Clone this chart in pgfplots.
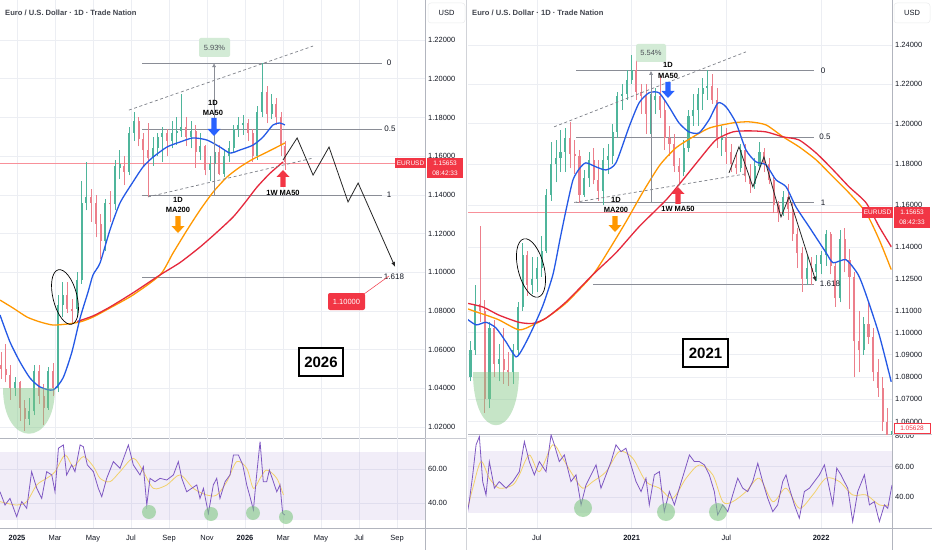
\documentclass[border=0pt]{standalone}
\usepackage{pgfplots}
\pgfplotsset{compat=1.18}
\usepackage{pgfplotstable}
\usepackage{fontspec}
\setmainfont{Liberation Sans}
\usetikzlibrary{arrows.meta}

\definecolor{cgreen}{HTML}{4FB59B}
\definecolor{cred}{HTML}{EC7F8B}
\definecolor{mablue}{HTML}{2459E6}
\definecolor{maorange}{HTML}{FF9800}
\definecolor{mared}{HTML}{E5283C}
\definecolor{tvred}{HTML}{F23645}
\definecolor{rsipurple}{HTML}{7E57C2}
\definecolor{rsiyellow}{HTML}{F2D16B}
\definecolor{gridc}{HTML}{ECEEF3}
\definecolor{axisc}{HTML}{B2B5BE}
\definecolor{txt}{HTML}{131722}
\definecolor{fibc}{HTML}{8A8D96}
\definecolor{pctbox}{HTML}{D3EBD6}
\definecolor{blob}{HTML}{81C784}
\definecolor{arrblue}{HTML}{2962FF}

\newcommand{\fs}[1]{\fontsize{#1}{#1}\selectfont}

\pgfplotstableread{
x o c h l
-0.85 1.052 1.050 1.059 1.045
-0.60 1.050 1.047 1.063 1.043
-0.35 1.047 1.040 1.052 1.034
-0.10 1.040 1.043 1.046 1.036
0.15 1.043 1.030 1.044 1.023
0.40 1.030 1.024 1.034 1.018
0.65 1.024 1.028 1.035 1.021
0.90 1.028 1.049 1.052 1.026
1.15 1.049 1.036 1.052 1.032
1.40 1.036 1.030 1.042 1.021
1.65 1.030 1.049 1.051 1.029
1.90 1.049 1.040 1.053 1.036
2.15 1.040 1.083 1.088 1.038
2.40 1.083 1.088 1.095 1.077
2.65 1.088 1.081 1.095 1.079
2.90 1.081 1.080 1.086 1.073
3.15 1.081 1.096 1.100 1.077
3.40 1.096 1.136 1.147 1.094
3.65 1.136 1.139 1.157 1.132
3.90 1.139 1.136 1.143 1.126
4.15 1.136 1.125 1.140 1.118
4.40 1.125 1.116 1.130 1.107
4.65 1.116 1.136 1.138 1.111
4.90 1.136 1.135 1.142 1.126
5.15 1.135 1.155 1.158 1.132
5.40 1.154 1.156 1.163 1.148
5.65 1.155 1.152 1.160 1.145
5.90 1.152 1.172 1.175 1.150
6.15 1.172 1.178 1.183 1.168
6.40 1.178 1.169 1.180 1.165
6.65 1.169 1.163 1.172 1.155
6.90 1.163 1.159 1.177 1.139
7.15 1.159 1.164 1.170 1.155
7.40 1.164 1.170 1.172 1.160
7.65 1.170 1.172 1.175 1.157
7.90 1.172 1.168 1.174 1.160
8.15 1.168 1.172 1.178 1.164
8.40 1.172 1.173 1.180 1.166
8.65 1.173 1.175 1.192 1.170
8.90 1.175 1.170 1.180 1.165
9.15 1.170 1.173 1.178 1.164
9.40 1.173 1.162 1.176 1.154
9.65 1.162 1.165 1.172 1.158
9.90 1.165 1.153 1.166 1.150
10.15 1.153 1.156 1.160 1.147
10.40 1.156 1.162 1.165 1.150
10.65 1.162 1.151 1.166 1.150
10.90 1.151 1.160 1.163 1.149
11.15 1.160 1.164 1.168 1.157
11.40 1.164 1.174 1.176 1.162
11.65 1.174 1.176 1.180 1.170
11.90 1.176 1.177 1.181 1.171
12.15 1.177 1.172 1.179 1.168
12.40 1.172 1.160 1.174 1.157
12.65 1.160 1.183 1.186 1.158
12.90 1.183 1.193 1.208 1.180
13.15 1.193 1.182 1.196 1.177
13.40 1.182 1.187 1.192 1.179
13.65 1.187 1.180 1.190 1.176
13.90 1.180 1.165 1.183 1.160
14.10 1.165 1.157 1.168 1.153
}\leftc

\pgfplotstableread{
x o c h l
1.8 1.080 1.092 1.096 1.078
2.1 1.092 1.113 1.122 1.090
2.4 1.113 1.110 1.150 1.105
2.7 1.110 1.070 1.115 1.064
3.0 1.070 1.102 1.105 1.066
3.3 1.102 1.086 1.106 1.080
3.6 1.086 1.088 1.095 1.078
3.9 1.088 1.083 1.102 1.077
4.2 1.083 1.082 1.091 1.076
4.5 1.082 1.092 1.095 1.077
4.8 1.092 1.112 1.114 1.090
5.1 1.112 1.136 1.142 1.110
5.4 1.136 1.122 1.138 1.117
5.7 1.122 1.125 1.135 1.118
6.0 1.125 1.130 1.135 1.119
6.3 1.130 1.138 1.145 1.126
6.6 1.138 1.165 1.168 1.137
6.9 1.165 1.180 1.191 1.162
7.2 1.180 1.183 1.192 1.171
7.5 1.183 1.186 1.197 1.176
7.8 1.186 1.193 1.198 1.176
8.1 1.193 1.185 1.201 1.178
8.4 1.185 1.184 1.192 1.175
8.7 1.184 1.165 1.187 1.161
9.0 1.165 1.173 1.177 1.164
9.3 1.173 1.182 1.186 1.169
9.6 1.182 1.172 1.188 1.170
9.9 1.172 1.167 1.182 1.162
10.2 1.167 1.182 1.188 1.160
10.5 1.182 1.184 1.190 1.175
10.8 1.184 1.196 1.200 1.180
11.1 1.196 1.214 1.216 1.193
11.4 1.214 1.215 1.220 1.207
11.7 1.215 1.222 1.227 1.212
12.0 1.222 1.227 1.235 1.220
12.3 1.227 1.216 1.233 1.212
12.6 1.216 1.214 1.220 1.205
12.9 1.214 1.205 1.220 1.195
13.2 1.205 1.212 1.215 1.195
13.5 1.212 1.214 1.218 1.205
13.8 1.214 1.207 1.224 1.203
14.1 1.207 1.193 1.212 1.187
14.4 1.193 1.190 1.199 1.184
14.7 1.190 1.179 1.195 1.176
15.0 1.179 1.176 1.183 1.170
15.3 1.176 1.188 1.192 1.174
15.6 1.188 1.204 1.207 1.186
15.9 1.204 1.207 1.215 1.199
16.2 1.207 1.215 1.218 1.199
16.5 1.215 1.218 1.223 1.207
16.8 1.218 1.219 1.227 1.212
17.1 1.219 1.212 1.225 1.210
17.4 1.212 1.192 1.218 1.188
17.7 1.192 1.193 1.199 1.184
18.0 1.193 1.186 1.198 1.180
18.3 1.186 1.180 1.190 1.176
18.6 1.180 1.178 1.185 1.175
18.9 1.178 1.187 1.190 1.176
19.2 1.187 1.174 1.190 1.171
19.5 1.174 1.170 1.180 1.166
19.8 1.170 1.179 1.183 1.168
20.1 1.179 1.186 1.191 1.177
20.4 1.186 1.180 1.188 1.176
20.7 1.180 1.172 1.183 1.170
21.0 1.172 1.160 1.174 1.156
21.3 1.160 1.156 1.162 1.152
21.6 1.156 1.164 1.167 1.155
21.9 1.164 1.158 1.170 1.153
22.2 1.158 1.146 1.161 1.143
22.5 1.146 1.137 1.149 1.130
22.8 1.137 1.125 1.140 1.119
23.1 1.125 1.130 1.136 1.122
23.4 1.130 1.128 1.135 1.122
23.7 1.128 1.132 1.136 1.124
24.0 1.132 1.136 1.138 1.127
24.3 1.136 1.146 1.148 1.131
24.6 1.146 1.131 1.147 1.127
24.9 1.131 1.116 1.133 1.112
25.2 1.116 1.144 1.148 1.114
25.5 1.144 1.134 1.149 1.128
25.8 1.134 1.126 1.139 1.111
26.1 1.126 1.096 1.128 1.080
26.4 1.096 1.092 1.110 1.082
26.7 1.092 1.104 1.107 1.090
27.0 1.104 1.098 1.114 1.095
27.3 1.098 1.082 1.102 1.078
27.6 1.082 1.075 1.088 1.071
27.9 1.075 1.060 1.080 1.056
28.2 1.060 1.054 1.066 1.045
28.5 1.054 1.056 1.065 1.035
}\rightc

\pgfplotsset{
  tvbase/.style={
    scale only axis, anchor=south west,
    axis x line*=bottom, axis y line*=right,
    axis line style={-, draw=axisc, line width=0.6pt},
    major tick length=0pt,
    xmajorgrids, ymajorgrids,
    major grid style={draw=gridc, line width=0.5pt},
    tick label style={font=\fs{7.5}, text=txt},
    yticklabel style={anchor=west, inner sep=0pt, xshift=3pt},
    xticklabel style={anchor=north, inner sep=0pt, yshift=-7pt},
  },
  ma/.style={line width=1.3pt, mark=none, smooth, tension=0.4},
  fib/.style={draw=fibc, line width=0.7pt, mark=none},
  chan/.style={draw=fibc!90!black, dashed, dash pattern=on 3pt off 2.5pt, line width=0.7pt, mark=none},
  zig/.style={draw=black!85, line width=0.8pt, mark=none},
}

\newcommand{\candles}[1]{%
 \addplot[draw=none, mark=none, forget plot,
   restrict expr to domain={\thisrow{c}-\thisrow{o}}{0:1},
   error bars/.cd, y dir=plus, y explicit, error mark=none,
   error bar style={draw=cgreen, line width=0.6pt}]
   table[x=x, y=l, y error expr=\thisrow{h}-\thisrow{l}] {#1};
 \addplot[draw=none, mark=none, forget plot,
   restrict expr to domain={\thisrow{c}-\thisrow{o}}{0:1},
   error bars/.cd, y dir=plus, y explicit, error mark=none,
   error bar style={draw=cgreen, line width=2.1pt}]
   table[x=x, y=o, y error expr=\thisrow{c}-\thisrow{o}] {#1};
 \addplot[draw=none, mark=none, forget plot,
   restrict expr to domain={\thisrow{o}-\thisrow{c}}{0.00001:1},
   error bars/.cd, y dir=plus, y explicit, error mark=none,
   error bar style={draw=cred, line width=0.6pt}]
   table[x=x, y=l, y error expr=\thisrow{h}-\thisrow{l}] {#1};
 \addplot[draw=none, mark=none, forget plot,
   restrict expr to domain={\thisrow{o}-\thisrow{c}}{0.00001:1},
   error bars/.cd, y dir=plus, y explicit, error mark=none,
   error bar style={draw=cred, line width=2.1pt}]
   table[x=x, y=c, y error expr=\thisrow{o}-\thisrow{c}] {#1};
}

\newcommand{\arrdown}[4]{\fill[#4] (#1-2.6,#2) -- (#1+2.6,#2) -- (#1+2.6,#3-7) -- (#1+6.5,#3-7) -- (#1,#3) -- (#1-6.5,#3-7) -- (#1-2.6,#3-7) -- cycle;}
\newcommand{\arrup}[4]{\fill[#4] (#1-2.6,#2) -- (#1+2.6,#2) -- (#1+2.6,#3+7) -- (#1+6.5,#3+7) -- (#1,#3) -- (#1-6.5,#3+7) -- (#1-2.6,#3+7) -- cycle;}

\begin{document}
\begin{tikzpicture}
\useasboundingbox (0,0) rectangle (932pt,550pt);
\fill[white] (0,0) rectangle (932pt,550pt);

%================ LEFT PRICE =================
\begin{axis}[tvbase, at={(0pt,112pt)}, width=425pt, height=438pt,
  xmin=-0.895, xmax=21.47, ymin=1.0143, ymax=1.2407,
  xtick={0,2,4,6,8,10,12,14,16,18,20}, xticklabels={},
  ytick={1.02,1.04,1.06,1.08,1.10,1.12,1.14,1.16,1.18,1.20,1.22},
  yticklabels={1.02000,1.04000,1.06000,1.08000,1.10000,1.12000,1.14000,1.16000,1.18000,1.20000,1.22000}]
 \addplot[draw=tvred!55, line width=0.5pt, mark=none] coordinates {(-0.895,1.1565) (21.47,1.1565)};
 \addplot[fib] coordinates {(6.58,1.2081) (19.2,1.2081)};
 \addplot[fib] coordinates {(6.58,1.1740) (19.2,1.1740)};
 \addplot[fib] coordinates {(6.58,1.1399) (19.2,1.1399)};
 \addplot[fib] coordinates {(6.58,1.0975) (19.2,1.0975)};
 \candles{\leftc}
 \addplot[ma, draw=maorange] coordinates {(-0.895,1.0856) (-0.21,1.0815) (0.53,1.0768) (1.21,1.0743) (1.89,1.0727) (2.63,1.0732) (3.32,1.0743) (4.0,1.0768) (4.89,1.0815) (6.1,1.0882) (7.53,1.0986) (8.21,1.1099) (8.95,1.1218) (9.63,1.1321) (10.32,1.1414) (11.05,1.1492) (11.74,1.1544) (12.42,1.1585) (13.16,1.1621) (13.68,1.1647) (14.1,1.1668)};
 \addplot[ma, draw=mared] coordinates {(3.16,1.0745) (4.0,1.0774) (4.89,1.0820) (6.1,1.0893) (7.53,1.0986) (8.58,1.1050) (9.63,1.1130) (10.5,1.1205) (11.37,1.1285) (12.0,1.1360) (12.63,1.1440) (13.3,1.1510) (14.0,1.1570)};
 \addplot[ma, draw=mablue] coordinates {(-0.895,1.0779) (-0.368,1.0639) (0.158,1.0536) (0.684,1.0453) (1.21,1.0407) (1.895,1.0391) (2.42,1.0453) (2.89,1.0588) (3.32,1.0763) (3.74,1.0898) (4.0,1.0986) (4.37,1.1048) (4.89,1.1218) (5.42,1.1358) (6.1,1.1466) (6.63,1.1544) (7.16,1.1595) (7.89,1.1647) (8.58,1.1673) (9.26,1.1694) (10.0,1.1683) (10.68,1.1647) (11.21,1.1616) (11.74,1.1632) (12.42,1.1657) (12.95,1.1699) (13.47,1.1761) (13.84,1.1771) (14.1,1.1761)};
 \addplot[chan] coordinates {(5.89,1.1838) (15.58,1.2169)};
 \addplot[chan] coordinates {(6.89,1.1389) (15.58,1.1590)};
 \addplot[draw=fibc, line width=0.6pt, mark=none, -{Latex[length=4pt,width=4pt]}] coordinates {(10.37,1.1399) (10.37,1.2081)};
 \addplot[zig, -{Latex[length=5pt,width=4pt]}] coordinates {(14.0,1.1580) (14.74,1.1694) (15.58,1.1502) (16.42,1.1647) (17.42,1.1363) (17.95,1.1461) (19.9,1.1027)};
\end{axis}

%================ LEFT RSI =================
\begin{axis}[tvbase, at={(0pt,22pt)}, width=425pt, height=90pt,
  xmin=-0.895, xmax=21.47, ymin=25.3, ymax=78.2,
  xtick={0,2,4,6,8,10,12,14,16,18,20},
  xticklabels={\textbf{2025},Mar,May,Jul,Sep,Nov,\textbf{2026},Mar,May,Jul,Sep},
  ytick={40,60}, yticklabels={40.00,60.00}]
 \addplot[fill=rsipurple, fill opacity=0.1, draw=none] coordinates {(-0.895,30) (21.47,30) (21.47,70) (-0.895,70)} -- cycle;
 \addplot[draw=rsiyellow, line width=0.8pt, mark=none, smooth] coordinates {(-0.895,40.8) (-0.02,38.8) (0.51,40.8) (1.04,50.6) (1.56,54.5) (2.0,58.4) (2.53,68.2) (2.96,61.4) (3.49,67.3) (4.02,61.4) (4.37,54.5) (4.89,52.5) (5.42,58.4) (6.12,66.3) (6.65,58.4) (7.18,48.6) (7.88,50.6) (8.58,56.5) (9.28,48.6) (9.98,44.7) (10.51,44.7) (11.04,52.5) (11.56,64.3) (12.09,60.4) (12.44,48.6) (12.79,54.5) (13.14,59.4) (13.67,54.5) (14.02,44.7)};
 \addplot[draw=rsipurple, line width=0.8pt, mark=none] coordinates {(-0.895,46.6) (-0.63,38.8) (-0.37,42.7) (-0.02,32.0) (0.25,40.8) (0.51,36.9) (0.77,58.4) (1.04,48.6) (1.3,42.7) (1.56,58.4) (1.83,56.5) (2.0,46.6) (2.18,72.2) (2.44,74.1) (2.61,56.5) (2.88,62.4) (3.05,58.4) (3.32,74.1) (3.49,73.1) (3.7,62.4) (4.02,58.4) (4.28,48.6) (4.46,43.7) (4.72,54.5) (5.07,64.3) (5.42,60.4) (5.86,74.1) (6.12,62.4) (6.47,56.5) (6.65,61.4) (6.83,38.8) (7.0,54.5) (7.26,52.5) (7.53,54.5) (7.88,53.5) (8.23,56.5) (8.49,64.3) (8.67,54.5) (8.93,46.6) (9.19,48.6) (9.46,50.6) (9.63,42.7) (9.81,48.6) (10.07,33.9) (10.33,50.6) (10.51,54.5) (10.68,42.7) (10.95,52.5) (11.21,56.5) (11.39,68.2) (11.65,68.2) (11.88,62.4) (12.09,50.6) (12.26,43.7) (12.44,35.9) (12.61,56.5) (12.79,76.1) (12.96,52.5) (13.14,52.5) (13.28,59.4) (13.49,52.5) (13.67,46.6) (13.84,50.6) (13.98,33.9) (14.1,32.9)};
\end{axis}

%================ RIGHT PRICE =================
\begin{axis}[tvbase, at={(468pt,116pt)}, width=424pt, height=434pt,
  xmin=1.64, xmax=28.49, ymode=log, ymin=1.0546, ymax=1.2634,
  xtick={6,12,18,24}, xticklabels={},
  ytick={1.06,1.07,1.08,1.09,1.10,1.11,1.125,1.14,1.16,1.18,1.20,1.22,1.24},
  yticklabels={1.06000,1.07000,1.08000,1.09000,1.10000,1.11000,1.12500,1.14000,1.16000,1.18000,1.20000,1.22000,1.24000}]
 \addplot[draw=tvred!55, line width=0.5pt, mark=none] coordinates {(1.64,1.1565) (28.49,1.1565)};
 \addplot[fib] coordinates {(8.48,1.2267) (23.55,1.2267)};
 \addplot[fib] coordinates {(8.48,1.1934) (23.55,1.1934)};
 \addplot[fib] coordinates {(8.48,1.1611) (23.55,1.1611)};
 \addplot[fib] coordinates {(9.56,1.1222) (23.55,1.1222)};
 \candles{\rightc}
 \addplot[ma, draw=maorange] coordinates {(1.51,1.1113) (2.15,1.1096) (2.78,1.1081) (3.6,1.1059) (4.87,1.1013) (5.76,1.1036) (6.58,1.1067) (7.85,1.1137) (9.56,1.1270) (10.57,1.1386) (11.64,1.1519) (12.72,1.1664) (13.8,1.1796) (14.81,1.1880) (15.89,1.1934) (16.96,1.1979) (18.42,1.2004) (19.43,1.2009) (20.51,1.1994) (21.59,1.1934) (22.6,1.1885) (23.68,1.1821) (24.76,1.1737) (25.77,1.1659) (26.85,1.1563) (27.68,1.1434) (28.44,1.1293)};
 \addplot[ma, draw=mared] coordinates {(1.51,1.1137) (2.59,1.1118) (3.6,1.1081) (4.87,1.1048) (5.76,1.1043) (6.58,1.1067) (7.85,1.1142) (9.56,1.1270) (11.01,1.1372) (12.47,1.1496) (14.18,1.1625) (15.25,1.1723) (16.27,1.1821) (17.34,1.1919) (18.42,1.1959) (19.43,1.1964) (20.51,1.1959) (21.59,1.1934) (22.6,1.1919) (23.68,1.1855) (24.76,1.1771) (25.77,1.1689) (26.85,1.1611) (27.68,1.1496) (28.44,1.1401)};
 \addplot[ma, draw=mablue] coordinates {(1.51,1.1067) (2.15,1.1036) (2.78,1.1048) (3.41,1.1022) (4.05,1.0958) (4.68,1.0890) (5.12,1.0930) (5.76,1.1022) (6.39,1.1127) (7.02,1.1270) (7.46,1.1434) (7.85,1.1577) (8.29,1.1723) (8.73,1.1781) (9.11,1.1806) (9.75,1.1786) (10.38,1.1771) (11.01,1.1806) (11.84,1.1984) (12.47,1.2104) (13.10,1.2155) (13.74,1.2155) (14.37,1.2084) (15.0,1.2004) (15.63,1.1959) (16.27,1.1954) (16.9,1.2019) (17.47,1.2104) (17.98,1.2084) (18.61,1.2004) (19.24,1.1870) (19.87,1.1811) (20.51,1.1796) (21.14,1.1723) (21.78,1.1689) (22.41,1.1591) (23.24,1.1496) (24.32,1.1372) (24.76,1.1325) (25.58,1.1339) (26.34,1.1270) (26.85,1.1175) (27.68,1.0990) (28.44,1.0778)};
 \addplot[chan] coordinates {(7.09,1.1984) (19.24,1.2364)};
 \addplot[chan] coordinates {(8.36,1.1613) (19.24,1.1752)};
 \addplot[draw=fibc, line width=0.6pt, mark=none, -{Latex[length=4pt,width=4pt]}] coordinates {(13.23,1.1611) (13.23,1.2267)};
 \addplot[zig, -{Latex[length=5pt,width=4pt]}] coordinates {(18.17,1.1757) (18.8,1.1885) (19.68,1.1689) (20.38,1.1835) (21.46,1.1543) (21.97,1.1640) (23.68,1.1236)};
\end{axis}

%================ RIGHT RSI =================
\begin{axis}[tvbase, at={(468pt,22pt)}, width=424pt, height=94pt,
  xmin=1.64, xmax=28.49, ymin=19.9, ymax=81.3,
  xtick={6,12,18,24},
  xticklabels={Jul,\textbf{2021},Jul,\textbf{2022}},
  ytick={40,60,80}, yticklabels={40.00,60.00,80.00}]
 \addplot[fill=rsipurple, fill opacity=0.1, draw=none] coordinates {(1.64,30) (28.49,30) (28.49,70) (1.64,70)} -- cycle;
 \addplot[draw=rsiyellow, line width=0.8pt, mark=none, smooth] coordinates {(1.51,28.4) (1.94,45.9) (2.46,63.3) (2.99,52.4) (3.62,45.9) (4.47,48.0) (4.89,54.6) (5.52,67.6) (6.16,56.7) (7.0,74.2) (7.63,65.5) (8.27,54.6) (8.9,45.9) (9.54,50.2) (10.38,56.7) (11.22,69.8) (12.07,65.5) (12.91,50.2) (13.76,45.9) (14.6,39.3) (15.45,52.4) (16.29,61.1) (17.14,54.6) (17.77,37.1) (18.4,37.1) (19.25,43.7) (20.09,52.4) (20.94,37.1) (21.78,45.9) (22.62,32.8) (23.47,41.5) (24.31,52.4) (25.16,50.2) (26.0,41.5) (26.85,41.5) (27.69,35.0) (28.32,35.0)};
 \addplot[draw=rsipurple, line width=0.8pt, mark=none] coordinates {(1.51,24.1) (1.72,37.1) (1.94,54.6) (2.15,74.2) (2.36,79.6) (2.57,50.2) (2.78,41.5) (2.99,63.3) (3.31,45.9) (3.62,50.2) (4.05,45.9) (4.47,50.2) (4.89,56.7) (5.21,76.3) (5.52,63.3) (5.84,54.6) (6.16,63.3) (6.58,56.7) (6.9,80.7) (7.11,74.2) (7.42,63.3) (7.74,67.6) (8.16,50.2) (8.48,54.6) (8.8,35.0) (9.11,48.0) (9.43,54.6) (9.75,61.1) (10.06,45.9) (10.38,54.6) (10.7,63.3) (11.01,74.2) (11.33,69.8) (11.64,72.0) (11.96,61.1) (12.28,50.2) (12.6,43.7) (12.91,52.4) (13.12,35.0) (13.44,54.6) (13.76,56.7) (14.07,30.6) (14.39,43.7) (14.71,35.0) (15.02,45.9) (15.34,56.7) (15.66,67.6) (15.97,63.3) (16.29,63.3) (16.61,61.1) (16.92,54.6) (17.24,43.7) (17.45,28.4) (17.77,35.0) (18.09,30.6) (18.4,41.5) (18.72,52.4) (19.04,45.9) (19.35,43.7) (19.67,50.2) (19.99,62.2) (20.3,50.2) (20.62,39.3) (20.94,30.6) (21.25,35.0) (21.57,50.2) (21.78,54.6) (21.99,45.9) (22.31,35.0) (22.62,26.3) (22.94,43.7) (23.26,45.9) (23.57,50.2) (23.89,54.6) (24.21,61.1) (24.52,45.9) (24.74,35.0) (24.99,59.0) (25.26,54.6) (25.47,50.2) (25.69,45.9) (26.0,24.1) (26.32,43.7) (26.74,54.6) (27.06,35.0) (27.37,37.1) (27.69,24.1) (28.01,35.0) (28.22,32.8) (28.49,48.0)};
\end{axis}

%================ ANNOTATIONS (pixel coordinates) =================
\begin{scope}[shift={(0pt,550pt)}, x=1pt, y=-1pt]
 \draw[axisc, line width=0.6pt] (425.3,528) -- (425.3,550);
 \draw[axisc, line width=0.6pt] (892,528) -- (892,550);
 \draw[axisc, line width=0.6pt] (425,528) -- (466,528);
 \draw[axisc, line width=0.6pt] (892,528) -- (932,528);
 \draw[axisc!60, line width=0.6pt] (466.5,0) -- (466.5,550);
 \draw[axisc!70, line width=0.5pt] (425,438) -- (466,438);
 \draw[axisc!70, line width=0.5pt] (892,434) -- (932,434);

 \node[anchor=west, text=txt!80, font=\bfseries\fs{7.6}, inner sep=0pt] at (5,13) {Euro / U.S. Dollar · 1D · Trade Nation};
 \node[anchor=west, text=txt!80, font=\bfseries\fs{7.6}, inner sep=0pt] at (472,13) {Euro / U.S. Dollar · 1D · Trade Nation};
 \draw[gridc!80!black!30, rounded corners=3pt, line width=0.5pt] (428,3) rectangle (465,23);
 \node[text=txt, font=\fs{7.5}] at (446.5,13) {USD};
 \draw[gridc!80!black!30, rounded corners=3pt, line width=0.5pt] (894,3) rectangle (930,23);
 \node[text=txt, font=\fs{7.5}] at (912,13) {USD};

 \fill[blob, opacity=0.45] (3,388) .. controls (3,449) and (55,449) .. (55,388) -- cycle;
 \fill[blob, opacity=0.45] (473,372) .. controls (473,443) and (519,443) .. (519,372) -- cycle;

 \draw[black, line width=0.7pt] (65,297) ellipse [x radius=12, y radius=28, rotate=14];
 \draw[black, line width=0.7pt] (531,268) ellipse [x radius=13, y radius=30, rotate=14];

 \fill[pctbox, rounded corners=2pt] (199,38) rectangle (230,57);
 \node[text=txt!75, font=\fs{7.5}] at (214.5,47.5) {5.93\%};
 \fill[pctbox, rounded corners=2pt] (636,44) rectangle (666,62);
 \node[text=txt!75, font=\fs{7.5}] at (651,53) {5.54\%};

 \node[text=txt, font=\fs{8}] at (389,63) {0};
 \node[text=txt, font=\fs{8}] at (390,129) {0.5};
 \node[text=txt, font=\fs{8}] at (389,195) {1};
 \node[text=txt, font=\fs{8}] at (394,277) {1.618};
 \node[text=txt, font=\fs{8}] at (823,71) {0};
 \node[text=txt, font=\fs{8}] at (825,137) {0.5};
 \node[text=txt, font=\fs{8}] at (823,203) {1};
 \node[text=txt, font=\fs{8}] at (830,284) {1.618};

 \node[font=\bfseries\fs{7.5}, text=black] at (213,103) {1D};
 \node[font=\bfseries\fs{7.5}, text=black] at (213,112.5) {MA50};
 \arrdown{214}{118}{136}{arrblue}
 \node[font=\bfseries\fs{7.5}, text=black] at (178,200) {1D};
 \node[font=\bfseries\fs{7.5}, text=black] at (178,209.5) {MA200};
 \arrdown{178}{216}{233}{maorange}
 \arrup{283}{187}{170}{tvred}
 \node[font=\bfseries\fs{7.5}, text=black] at (283,193) {1W MA50};

 \node[font=\bfseries\fs{7.5}, text=black] at (668,65) {1D};
 \node[font=\bfseries\fs{7.5}, text=black] at (668,75.5) {MA50};
 \arrdown{668}{82}{98}{arrblue}
 \node[font=\bfseries\fs{7.5}, text=black] at (616,200) {1D};
 \node[font=\bfseries\fs{7.5}, text=black] at (616,209.5) {MA200};
 \arrdown{615}{216}{232}{maorange}
 \arrup{678}{204}{187}{tvred}
 \node[font=\bfseries\fs{7.5}, text=black] at (678,209) {1W MA50};

 \draw[tvred, line width=0.5pt] (364,294) -- (389,276);
 \fill[tvred, rounded corners=2pt] (328,293) rectangle (365,310);
 \node[text=white, font=\fs{7.5}] at (346.5,301.5) {1.10000};

 \draw[black, line width=1.2pt, fill=white] (299,348) rectangle (343,376);
 \node[font=\bfseries\fs{15}] at (321,362) {2026};
 \draw[black, line width=1.2pt, fill=white] (683,339) rectangle (728,367);
 \node[font=\bfseries\fs{15}] at (705.5,353) {2021};

 \foreach \cx/\cy in {149/512, 211/514, 253/513, 286/517}
   \fill[blob, opacity=0.6] (\cx,\cy) circle [radius=7];
 \foreach \cx/\cy in {583/508, 666/512, 718/512}
   \fill[blob, opacity=0.6] (\cx,\cy) circle [radius=9];

 \fill[tvred] (395,158) rectangle (426,168);
 \node[text=white, font=\fs{6.5}] at (410.5,163) {EURUSD};
 \fill[tvred] (427,158) rectangle (463,178);
 \node[text=white, font=\fs{6.5}] at (445,163) {1.15653};
 \node[text=white, font=\fs{6.5}] at (445,173) {08:42:33};
 \fill[tvred] (862,207) rectangle (893,218);
 \node[text=white, font=\fs{6.5}] at (877.5,212.5) {EURUSD};
 \fill[tvred] (894,207) rectangle (930,228);
 \node[text=white, font=\fs{6.5}] at (912,212.5) {1.15653};
 \node[text=white, font=\fs{6.5}] at (912,222.5) {08:42:33};
 \draw[tvred, fill=white, line width=0.6pt] (894,423) rectangle (930,433);
 \node[text=tvred, font=\fs{6.5}] at (912,428) {1.05628};
\end{scope}
\end{tikzpicture}
\end{document}
